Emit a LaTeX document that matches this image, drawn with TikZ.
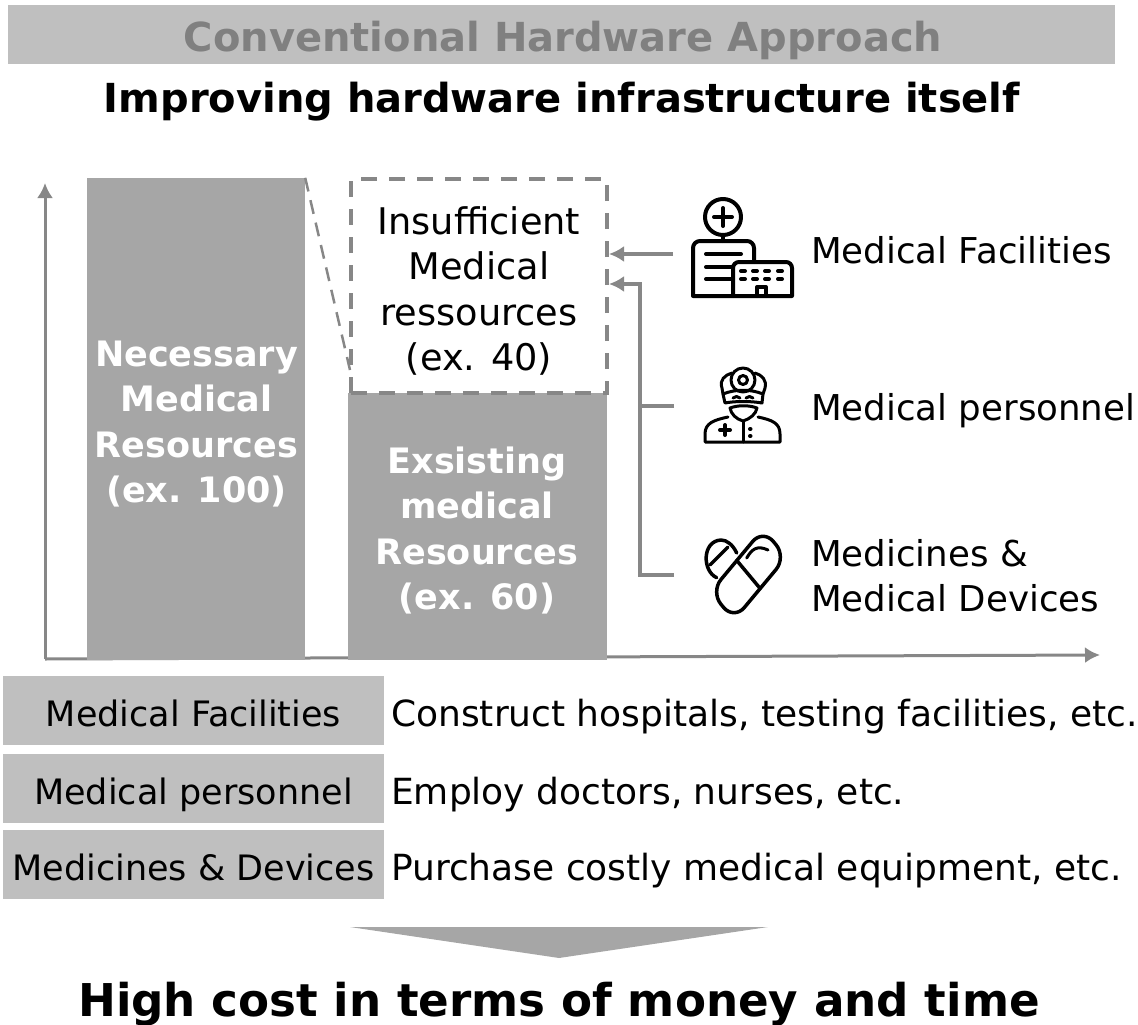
\documentclass[tikz,border=0pt]{standalone}
\usepackage{fontspec}
\setmainfont{DejaVu Sans}
\usetikzlibrary{arrows.meta}
\newcommand{\fsz}[1]{\fontsize{#1}{45.5}\selectfont}
\definecolor{barfill}{HTML}{A6A6A6}
\definecolor{boxfill}{HTML}{BFBFBF}
\definecolor{linegray}{HTML}{878787}

\begin{document}
\begin{tikzpicture}[x=1pt,y=-1pt]
      \useasboundingbox (0,0) rectangle (1138,1025);

      \tikzstyle{head}=[anchor=base,inner sep=0pt,font=\fsz{40}\bfseries]
      \tikzstyle{bar}=[rectangle,fill=barfill,inner sep=0pt]
      \tikzstyle{bartxt}=[text=white,inner sep=0pt,align=center,font=\fsz{35}\bfseries]
      \tikzstyle{rowbox}=[rectangle,fill=boxfill,inner sep=0pt,text height=31pt,text depth=0pt,
        minimum width=381pt,minimum height=69pt,font=\fsz{35}]
      \tikzstyle{txt}=[anchor=base west,inner sep=0pt,font=\fsz{35.6}]
      \tikzstyle{desc}=[txt,font=\fsz{36}]
      \tikzstyle{ar}=[-{Latex[length=15pt,width=16pt]},draw=linegray,line width=4pt]
      \tikzstyle{ax}=[-{Latex[length=15pt,width=16pt]},draw=linegray,line width=3pt]
      \tikzstyle{ln}=[draw=linegray,line width=4pt]
      \tikzstyle{icon}=[draw=black,line width=4pt,line cap=round,line join=round]
      \tikzstyle{thinicon}=[icon,line width=3pt]

      % headings
      \node[bar][fill=boxfill,minimum width=1107pt,minimum height=59pt] (title) at (561.5,34.5) {};
      \node[head][text=black!50] (titlet) at (563,52) {Conventional Hardware Approach};
      \node[head] (sub) at (562,112) {Improving hardware infrastructure itself};

      % chart
      \coordinate (orig) at (45,659);
      \coordinate (ytip) at (45,183);
      \coordinate (xtip) at (1100,655);
      \draw[ax] (orig) -- (ytip);
      \draw[ax] (orig) -- (xtip);

      \node[bar,minimum width=218pt,minimum height=482pt] (need) at (196,419) {};
      \node[bar,minimum width=259pt,minimum height=267pt] (have) at (477.5,526.5) {};
      \node[draw=linegray,line width=4pt,dash pattern=on 16pt off 12pt,rectangle,
        inner sep=0pt,minimum width=256pt,minimum height=214pt] (gap) at (479,286) {};

      \node[bartxt] (needt) at (196.5,424) {Necessary\\Medical\\Resources\\(ex. 100)};
      \node[bartxt] (havet) at (477,530.5) {Exsisting\\medical\\Resources\\(ex. 60)};
      \node[bartxt][text=black,font=\fsz{36.7}] (gapt) at (479,291)
      {Insufficient\\Medical\\ressources\\(ex. 40)};

      \coordinate (gaplow) at (350,370);
      \draw[draw=linegray,line width=2.5pt,dash pattern=on 14pt off 9pt] (need.north east) -- (gaplow);

      % connectors
      \coordinate (fac) at (673,254);
      \coordinate (doc) at (674,406);
      \coordinate (drg) at (674,575);
      \coordinate (jn) at (640,284);
      \draw[ar] (fac) -- (fac -| gap.east);
      \draw[ar] (drg) -| (jn) -- (jn -| gap.east);
      \draw[ln] (doc) -- (doc -| jn);

      % hospital
      \draw[icon] (723,217) circle (18);
      \draw[icon] (714,217) -- (732,217) (723,208) -- (723,226) (723,235) -- (723,241);
      \draw[icon] (733,296) -- (693,296) -- (693,248) arc (180:270:7) -- (747,241)
      arc (270:360:7) -- (754,262);
      \draw[icon] (733,296) -- (733,268) arc (180:270:6) -- (786,262)
      arc (270:360:6) -- (792,296) -- (733,296);
      \draw[icon] (706,254) -- (741,254) (706,267) -- (733,267) (706,279) -- (733,279);
      \foreach \wx in {741,753,765,778} {
        \draw[icon] (\wx,271) -- (\wx+4,271) (\wx,279) -- (\wx+4,279);
      }
      \draw[icon] (757,296) -- (757,287) -- (766,287) -- (766,296);

      % doctor
      \draw[thinicon] (743,380) circle (12);
      \draw[thinicon] (743,380) circle (4.5);
      \draw[thinicon] (732,373) .. controls (725,375) and (719,380) .. (722,388) -- (723,394)
      (755,373) .. controls (762,375) and (767,380) .. (765,388) -- (763,394);
      \draw[thinicon] (723,394) .. controls (735,389) and (751,389) .. (763,394)
      -- (762,403) .. controls (751,401) and (735,401) .. (725,403) -- cycle;
      \draw[thinicon] (733,398) .. controls (735,396) and (738,396) .. (740,398)
      (746,398) .. controls (748,396) and (751,396) .. (753,398);
      \draw[thinicon] (730,408) .. controls (738,405) and (749,405) .. (757,408)
      .. controls (756,414) and (750,419) .. (743,421) .. controls (736,419) and (731,414) .. (730,408) -- cycle;
      \draw[thinicon] (728,417) .. controls (714,420) and (705,423) .. (705,434)
      -- (705,442) -- (780,442) -- (780,434) .. controls (780,423) and (772,420) .. (758,417);
      \draw[thinicon] (743,422) -- (743,442);
      \draw[icon] (720,430) -- (730,430) (725,425) -- (725,435);
      \draw[icon] (750,429) -- (750.5,429) (750,436) -- (750.5,436);

      % pills
      \begin{scope}[shift={(748.5,574.5)},yscale=1.2,rotate=45]
        \draw[thinicon,line width=3.5pt,rounded corners=16pt] (-37,-16.5) rectangle (37,16.5);
        \draw[thinicon,line width=3.5pt] (0,-16.5) -- (0,16.5);
      \end{scope}
      \draw[thinicon] (746.7,558) .. controls (752,549) and (757,545) .. (768,550);
      \draw[thinicon,line width=3.5pt] (716.7,577.7) .. controls (702,571) and (702,541) .. (721,540)
      .. controls (727,540) and (733,545) .. (736.7,553);
      \draw[thinicon,line width=3.5pt] (710,565) -- (728,547);

      % icon labels
      \node[txt] (facl) at (811,263) {Medical Facilities};
      \node[txt] (docl) at (811,420) {Medical personnel};
      \node[txt] (drgl) at (811,566) {Medicines \&};
      \node[txt] (drgm) at (811,611) {Medical Devices};

      % rows
      \node[rowbox] (r1) at (193.5,710.5) {Medical Facilities};
      \node[rowbox] (r2) at (193.5,788.5) {Medical personnel};
      \node[rowbox] (r3) at (193.5,864.5) {Medicines \& Devices};
      \node[desc] (d1) at (391,726) {Construct hospitals, testing facilities, etc.};
      \node[desc] (d2) at (391,804) {Employ doctors, nurses, etc.};
      \node[desc] (d3) at (391,880) {Purchase costly medical equipment, etc.};

      % result
      \coordinate (ta) at (350,927);
      \coordinate (tb) at (768,927);
      \coordinate (tc) at (559,958);
      \fill[barfill] (ta) -- (tb) -- (tc) -- cycle;
      \node[head][font=\fsz{45.2}\bfseries] (res) at (559,1016) {High cost in terms of money and time};
    \end{tikzpicture}
\end{document}
